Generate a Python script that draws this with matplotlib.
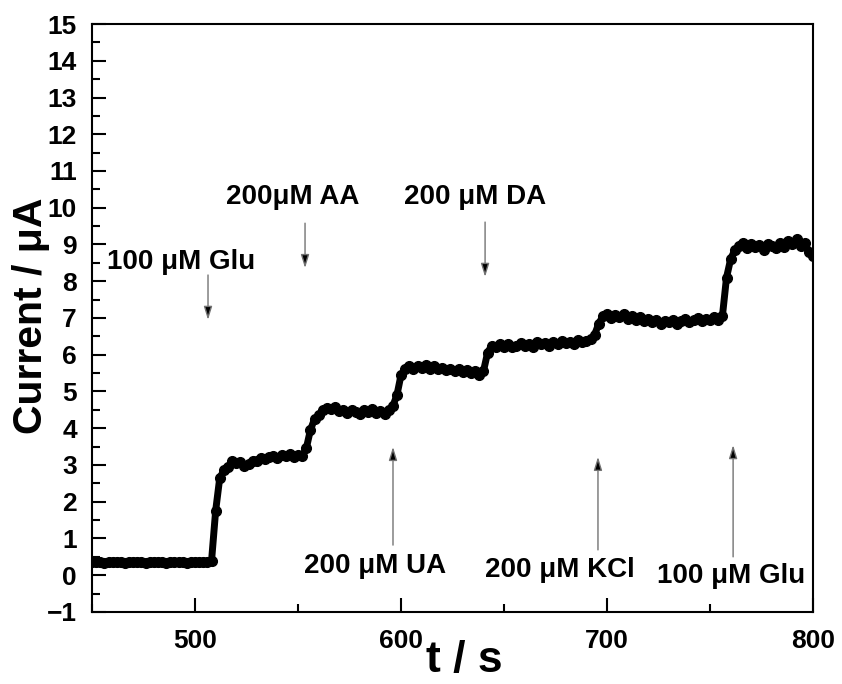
import numpy as np
import matplotlib
matplotlib.use('Agg')
import matplotlib.pyplot as plt
from matplotlib.ticker import MultipleLocator

plt.rcParams['font.family'] = ['Liberation Sans', 'DejaVu Sans']
plt.rcParams['font.weight'] = 'bold'

# time grid (s), one reading every 2 s
t = np.arange(450, 801, 2)

# current (uA)
current = [
    0.35, 0.36, 0.35, 0.34, 0.35, 0.36, 0.35, 0.35, 0.34, 0.35,   # 450-468
    0.36, 0.35, 0.35, 0.34, 0.35, 0.36, 0.35, 0.35, 0.34, 0.35,   # 470-488
    0.36, 0.35, 0.35, 0.34, 0.35, 0.36, 0.35, 0.35, 0.36,         # 490-506
    0.38, 1.75, 2.65, 2.85, 2.95, 3.10, 3.05, 3.08, 2.98, 3.02,   # 508-526
    3.10, 3.12, 3.18, 3.15, 3.22, 3.25, 3.20, 3.28, 3.25, 3.30,   # 528-546
    3.22, 3.28, 3.25, 3.45, 3.95, 4.25, 4.35, 4.50, 4.55, 4.52,   # 548-566
    4.58, 4.48, 4.50, 4.42, 4.50, 4.45, 4.38, 4.50, 4.45, 4.52,   # 568-586
    4.42, 4.48, 4.40, 4.50, 4.60, 4.90, 5.45, 5.62, 5.70, 5.60,   # 588-606
    5.68, 5.65, 5.72, 5.62, 5.68, 5.60, 5.65, 5.58, 5.62, 5.55,   # 608-626
    5.60, 5.52, 5.58, 5.50, 5.55, 5.45, 5.55, 6.05, 6.25, 6.20,   # 628-646
    6.30, 6.22, 6.28, 6.20, 6.25, 6.32, 6.25, 6.30, 6.22, 6.35,   # 648-666
    6.28, 6.32, 6.25, 6.35, 6.30, 6.38, 6.32, 6.35, 6.28, 6.40,   # 668-686
    6.35, 6.38, 6.42, 6.55, 6.85, 7.05, 7.10, 7.00, 7.08, 7.02,   # 688-706
    7.10, 6.98, 7.05, 6.95, 7.02, 6.92, 6.98, 6.90, 6.95, 6.85,   # 708-726
    6.92, 6.88, 6.95, 6.85, 6.92, 6.98, 6.90, 6.95, 7.00, 6.92,   # 728-746
    6.98, 6.95, 7.02, 6.95, 7.05, 8.10, 8.60, 8.85, 8.95, 9.05,   # 748-766
    8.90, 9.00, 8.92, 8.98, 8.85, 9.02, 8.95, 8.90, 9.05, 8.92,   # 768-786
    9.10, 9.00, 9.15, 8.95, 9.05, 8.80, 8.70,                     # 788-800
]
assert len(current) == len(t)

# injections: label, text position, arrow start, arrow tip
labels = ['100 μM Glu', '200μM AA', '200 μM DA',
          '200 μM UA', '200 μM KCl', '100 μM Glu']
text_xy = [(493.2, 8.52), (547.6, 10.29), (636, 10.29),
           (587.4, 0.25), (677.2, 0.14), (760.2, -0.02)]
arrow_from = [(506.3, 8.17), (553.4, 9.58), (640.8, 9.61),
              (596.1, 0.82), (695.6, 0.69), (761.2, 0.50)]
arrow_to = [(506.3, 6.95), (553.4, 8.36), (640.8, 8.12),
            (596.1, 3.49), (695.6, 3.22), (761.2, 3.54)]

fig = plt.figure(figsize=(8.42, 6.84), dpi=100)
ax = fig.add_axes([0.1093, 0.1053, 0.8563, 0.8596])

ax.plot(t, current, color='k', lw=5, marker='o', ms=7)

for lab, txy, a0, a1 in zip(labels, text_xy, arrow_from, arrow_to):
    ax.text(txy[0], txy[1], lab, ha='center', va='center',
            fontsize=20, fontweight='bold')
    ax.annotate('', xy=a1, xytext=a0,
                arrowprops=dict(arrowstyle='-|>,head_length=0.8,head_width=0.25',
                                fc='k', ec='0.45', lw=1.0,
                                shrinkA=0, shrinkB=0))

ax.set_xlim(450, 800)
ax.set_ylim(-1, 15)
ax.xaxis.set_major_locator(MultipleLocator(100))
ax.xaxis.set_minor_locator(MultipleLocator(50))
ax.yaxis.set_major_locator(MultipleLocator(1))
ax.yaxis.set_minor_locator(MultipleLocator(0.5))
ax.tick_params(which='both', direction='in', width=1.5, labelsize=19)
ax.tick_params(which='major', length=10)
ax.tick_params(which='minor', length=6)
ax.tick_params(axis='x', which='both', pad=12)
ax.tick_params(axis='y', which='both', pad=11)
for s in ax.spines.values():
    s.set_linewidth(1.5)

ax.set_xlabel('t / s', fontsize=32, fontweight='bold')
ax.xaxis.set_label_coords(0.516, -0.047)
ax.set_ylabel('Current / μA', fontsize=29.5, fontweight='bold')
ax.yaxis.set_label_coords(-0.058, 0.503)

fig.savefig('out.png', dpi=100)
